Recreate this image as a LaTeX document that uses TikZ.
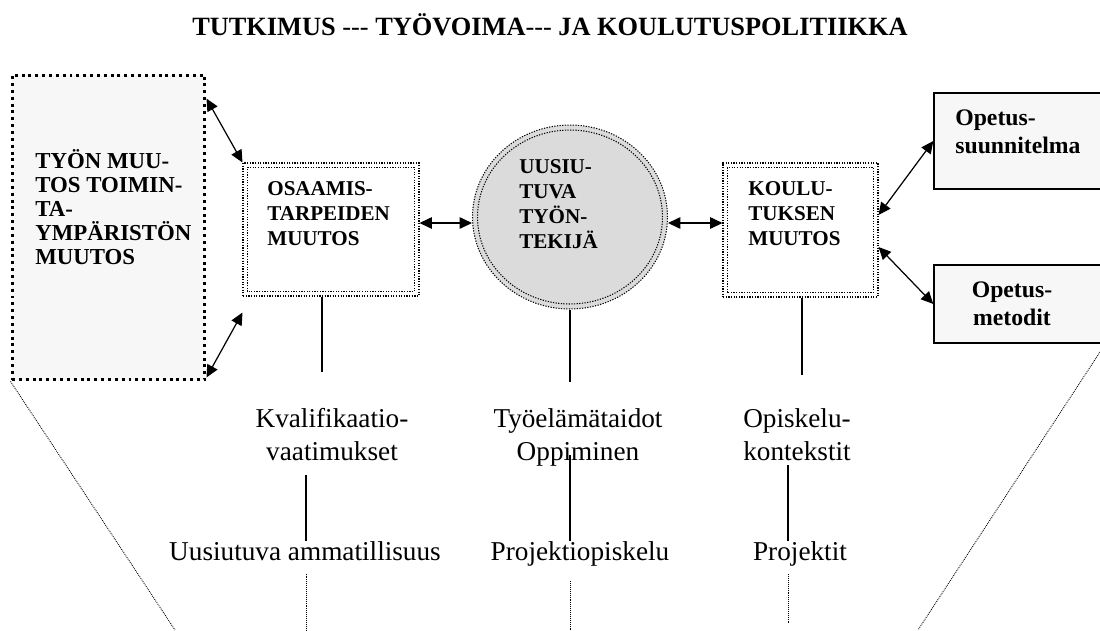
\documentclass[tikz,border=0pt]{standalone}
\usepackage{fontspec}
\setmainfont{Liberation Serif}
\usetikzlibrary{arrows.meta,shapes.geometric}

\tikzset{
  heavybox/.style={draw, line width=1.7pt, dash pattern=on 1.7pt off 2.2pt, fill=black!3, inner sep=0},
  dotbox/.style={draw, line width=0.6pt, dash pattern=on 0.7pt off 0.8pt, inner sep=0},
  plainbox/.style={draw, line width=0.8pt, fill=black!3, inner sep=0},
  duo/.style={{Triangle[length=7pt,width=6.5pt]}-{Triangle[length=7pt,width=6.5pt]}, line width=0.7pt},
  tie/.style={line width=0.7pt},
  trail/.style={line width=0.5pt, dash pattern=on 0.5pt off 0.6pt},
  boxlab/.style={font=\bfseries\fontsize{12}{14.2}\selectfont, align=left, inner sep=0},
  lab/.style={font=\fontsize{15.5}{18.7}\selectfont, align=center, inner sep=0}
}

\begin{document}
\begin{tikzpicture}[x=0.02cm, y=-0.02cm]
  \useasboundingbox (0,0) rectangle (1100,630);

  % otsikko
  \node[inner sep=0, anchor=base, font=\bfseries\fontsize{15}{18}\selectfont] (title) at (550,35)
    {TUTKIMUS {\mdseries -{}-{}-} TYÖVOIMA{\mdseries -{}-{}-} JA KOULUTUSPOLITIIKKA};

  % laatikot
  \node[heavybox, minimum width=3.86cm, minimum height=6.1cm] (tyon) at (108.5,227.5) {};
  \node[boxlab, font=\bfseries\fontsize{13}{13.6}\selectfont, anchor=base west] (tyontxt) at (35,264)
    {TYÖN MUU-\\TOS TOIMIN-\\TA-\\YMPÄRISTÖN\\MUUTOS};

  \node[dotbox, minimum width=3.52cm, minimum height=2.66cm] (osa) at (331,229.5) {};
  \draw[dotbox] ([shift={(0.1cm,0.1cm)}]osa.south west) rectangle ([shift={(-0.1cm,-0.1cm)}]osa.north east);
  \node[boxlab, anchor=base west] (osatxt) at (267,245) {OSAAMIS-\\TARPEIDEN\\MUUTOS};

  \node[dotbox, ellipse, fill=black!14, minimum width=3.9cm, minimum height=3.68cm] (uusi) at (570,217) {};
  \draw[dotbox] (uusi.center) ellipse [x radius=1.85cm, y radius=1.74cm];
  \node[boxlab, anchor=base west] (uusitxt) at (519,248) {UUSIU-\\TUVA\\TYÖN-\\TEKIJÄ};

  \node[dotbox, minimum width=3.1cm, minimum height=2.68cm] (kou) at (800.5,230) {};
  \draw[dotbox] ([shift={(0.1cm,0.1cm)}]kou.south west) rectangle ([shift={(-0.1cm,-0.1cm)}]kou.north east);
  \node[boxlab, anchor=base west] (koutxt) at (748,245) {KOULU-\\TUKSEN\\MUUTOS};

  \node[plainbox, minimum width=3.52cm, minimum height=1.92cm] (suun) at (1022,141) {};
  \node[boxlab, font=\bfseries\fontsize{13.5}{15.9}\selectfont, anchor=base west] (suuntxt) at (955,153)
    {Opetus-\\suunnitelma};
  \node[plainbox, minimum width=3.52cm, minimum height=1.56cm] (met) at (1022,304) {};
  \node[boxlab, font=\bfseries\fontsize{13.5}{15.4}\selectfont, align=center, anchor=base] (mettxt) at (1012,325)
    {Opetus-\\metodit};

  % nuolet
  \draw[duo] ([yshift=-0.5cm]tyon.north east) -- (osa.north west);
  \draw[duo] ([yshift=0.08cm]tyon.south east) -- ([yshift=-0.32cm]osa.south west);
  \coordinate (axis) at ([yshift=-0.12cm]uusi.west);
  \draw[duo] (axis -| osa.east) -- (axis);
  \draw[duo] (axis -| uusi.east) -- (axis -| kou.west);
  \draw[duo] ([yshift=0.3cm]kou.east) -- (suun.west);
  \draw[duo] ([yshift=-0.34cm]kou.east) -- (met.west);

  % alemmat tasot
  \node[lab, anchor=base] (kval) at (332,460) {Kvalifikaatio-\\vaatimukset};
  \node[lab, anchor=base] (tyoel) at (578,460) {Työelämätaidot\\Oppiminen};
  \node[lab, anchor=base] (opis) at (797,460) {Opiskelu-\\kontekstit};
  \node[lab, anchor=base] (amm) at (305,560) {Uusiutuva ammatillisuus};
  \node[lab, anchor=base] (proj) at (580,560) {Projektiopiskelu};
  \node[lab, anchor=base] (projt) at (800,560) {Projektit};

  \coordinate (osaend) at (322,372);
  \coordinate (uusiend) at (570,382);
  \coordinate (kouend) at (802,375);
  \draw[tie] (osa.south -| osaend) -- (osaend);
  \draw[tie] (uusi.south) -- (uusiend);
  \draw[tie] (kou.south -| kouend) -- (kouend);

  \coordinate (ammx) at (306,475);
  \coordinate (projx) at (570,455);
  \coordinate (projtx) at (788,465);
  \draw[tie] (ammx) -- (ammx |- amm.north);
  \draw[tie] (projx) -- (projx |- proj.north);
  \draw[tie] (projtx) -- (projtx |- projt.north);

  \coordinate (ammfoot) at (306,630);
  \coordinate (projfoot) at (570,630);
  \coordinate (projtfoot) at (788,623);
  \draw[trail] ([yshift=-0.26cm]amm.south -| ammfoot) -- (ammfoot);
  \draw[trail] ([yshift=-0.3cm]proj.south -| projfoot) -- (projfoot);
  \draw[trail] ([yshift=-0.16cm]projt.south -| projtfoot) -- (projtfoot);

  % vinot rajat
  \coordinate (lfoot) at (175,630);
  \coordinate (rtop) at (1100,352);
  \coordinate (rfoot) at (918,630);
  \draw[trail] (tyon.south west) -- (lfoot);
  \draw[trail] (rtop) -- (rfoot);
\end{tikzpicture}
\end{document}
